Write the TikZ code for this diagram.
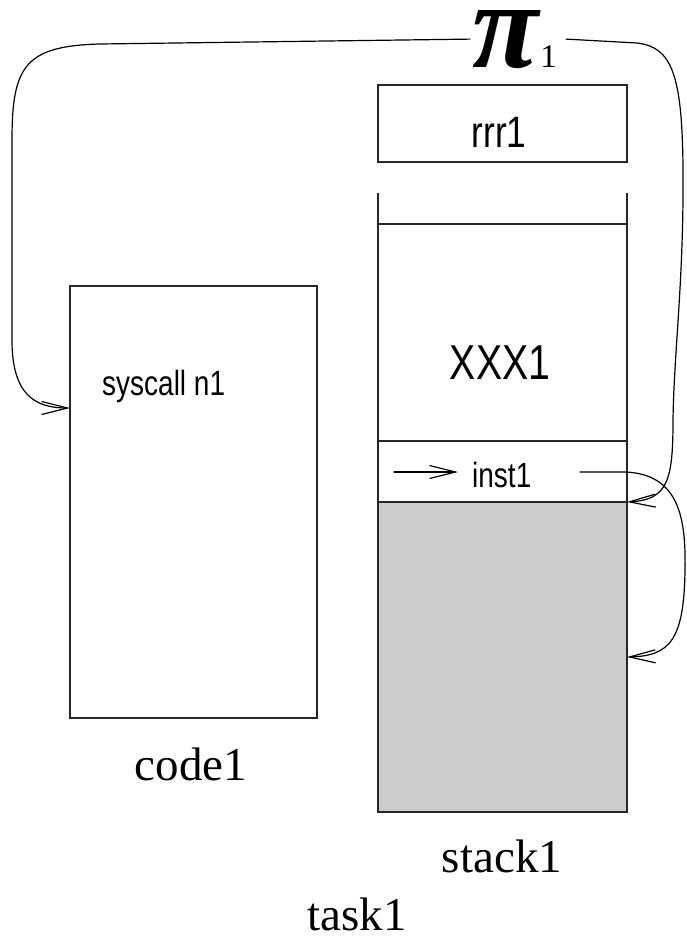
\documentclass[tikz,border=0pt]{standalone}
\usepackage{graphicx}
\usepackage{fontspec}
\setmainfont{Liberation Serif}
\newfontfamily\narrowsans[FakeStretch=0.8]{Liberation Sans}
\usetikzlibrary{arrows.meta}

\tikzset{
  boxline/.style={draw=black!85, line width=1.6pt, inner sep=0pt, outer sep=0pt, anchor=north west},
  conn/.style={line width=1.2pt, line cap=round, line join=round},
  tipped/.style={-{Straight Barb[length=26pt, width=13pt, line width=1.2pt]}},
  sanslbl/.style={inner sep=0pt, font=\narrowsans\fontsize{35}{40}\selectfont},
  seriflbl/.style={inner sep=0pt, anchor=base, font=\fontsize{47}{50}\selectfont},
}

\begin{document}
\begin{tikzpicture}[x=1pt, y=-1pt]
  \useasboundingbox (0,0) rectangle (686,942);

  % code segment
  \node[boxline, minimum width=247pt, minimum height=432pt] (code) at (70,286) {};
  \node[sanslbl, anchor=base west] (sys) at (102,395) {syscall n1};
  \node[seriflbl] (codelbl) at (191,780) {code1};

  % register save area
  \node[boxline, minimum width=249pt, minimum height=77pt] (rrr) at (378,85) {};
  \node[sanslbl, anchor=base, font=\narrowsans\fontsize{44}{48}\selectfont] (rrrlbl) at (499,147) {rrr1};

  % stack
  \node[boxline, minimum width=249pt, minimum height=217pt] (xxx) at (378,224) {};
  \node[boxline, minimum width=249pt, minimum height=61pt] (inst) at (378,441) {};
  \node[boxline, fill=black!20, minimum width=249pt, minimum height=310pt] (free) at (378,502) {};
  \draw[boxline] (xxx.north west) -- ++(0,-31);
  \draw[boxline] (xxx.north east) -- ++(0,-31);
  \node[sanslbl, anchor=base, font=\narrowsans\fontsize{49}{52}\selectfont] (xxxlbl) at (500,379) {XXX1};
  \node[sanslbl, anchor=base west] (instlbl) at (472,487) {inst1};
  \node[seriflbl] (stacklbl) at (502,872) {stack1};

  \node[seriflbl] (tasklbl) at (357,930) {task1};

  % kernel entry
  \node[inner sep=0pt, anchor=base west] (pi) at (470,67)
    {\kern2pt\resizebox{66pt}{57pt}{\bfseries\itshape π}\kern2pt{\fontsize{33}{33}\selectfont 1}\kern9pt};

  % connector end points
  \coordinate (entry) at (70,408);
  \coordinate (pc) at (394,472);
  \coordinate (instout) at (580,472);
  \coordinate (sp) at (627,657);

  % trap into the kernel
  \draw[conn, tipped] (pi.west) -- (100,44)
    .. controls (25,46) and (12,66) .. (12,140)
    -- (12,340)
    .. controls (12,395) and (35,408) .. (entry);

  % return to the saved frame
  \draw[conn, tipped] (pi.east) -- (637,43)
    .. controls (672,47) and (682,75) .. (683,167)
    .. controls (684,280) and (674,350) .. (673,420)
    .. controls (673,480) and (668,500) .. (inst.south east);

  % instruction pointer
  \draw[conn, tipped, shorten >=14pt] (pc) -- (pc -| instlbl.west);
  \draw[conn, tipped] (instout) -- (625,472)
    .. controls (680,474) and (686,520) .. (685,570)
    .. controls (684,640) and (670,656) .. (sp);
\end{tikzpicture}
\end{document}
